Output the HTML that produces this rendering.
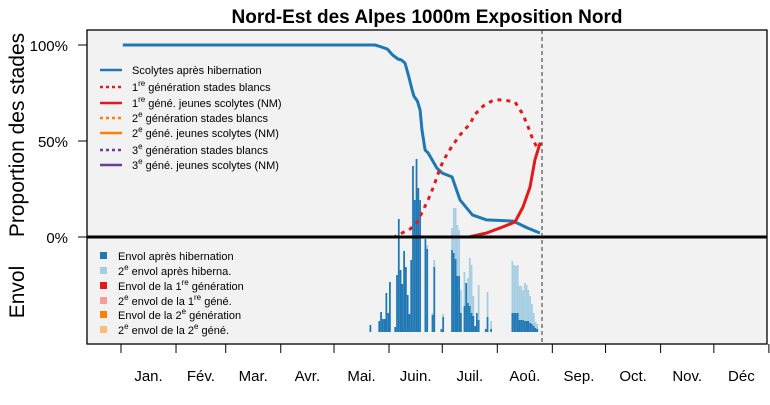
<!DOCTYPE html>
<html><head><meta charset="utf-8"><style>
body{margin:0;background:#fff;}
svg{display:block;font-family:"Liberation Sans",sans-serif;}
</style></head><body>
<svg id="chart" width="770" height="405" viewBox="0 0 770 405">
<text x="427" y="23" text-anchor="middle" font-size="19" font-weight="bold">Nord-Est des Alpes 1000m Exposition Nord</text>
<rect x="87" y="30" width="680" height="314" fill="#f2f2f2" stroke="#000" stroke-width="1.3"/>
<g id="bars"></g>
<g id="lines"></g>
<line x1="87" x2="767" y1="237" y2="237" stroke="#000" stroke-width="3"/>
<line x1="542" x2="542" y1="30" y2="344" stroke="#333" stroke-width="1" stroke-dasharray="4,3"/>
<g id="yaxis" font-size="15"></g>
<text transform="translate(24,135) rotate(-90)" text-anchor="middle" font-size="21">Proportion des stades</text>
<text transform="translate(24,292) rotate(-90)" text-anchor="middle" font-size="21">Envol</text>
<g id="xaxis" font-size="15"></g>
<g font-size="11">
 <g><line x1="100" x2="122" y1="70" y2="70" stroke="#1f78b4" stroke-width="2.5"/><text x="132" y="74">Scolytes après hibernation</text></g>
 <g><line x1="100" x2="122" y1="87" y2="87" stroke="#e31a1c" stroke-width="2.5" stroke-dasharray="3,3"/><text x="132" y="91">1<tspan font-size="8" dy="-5">re</tspan><tspan dy="5"> génération stades blancs</tspan></text></g>
 <g><line x1="100" x2="122" y1="103" y2="103" stroke="#e31a1c" stroke-width="2.5"/><text x="132" y="107">1<tspan font-size="8" dy="-5">re</tspan><tspan dy="5"> géné. jeunes scolytes (NM)</tspan></text></g>
 <g><line x1="100" x2="122" y1="118" y2="118" stroke="#ff7f00" stroke-width="2.5" stroke-dasharray="3,3"/><text x="132" y="122">2<tspan font-size="8" dy="-5">e</tspan><tspan dy="5"> génération stades blancs</tspan></text></g>
 <g><line x1="100" x2="122" y1="133" y2="133" stroke="#ff7f00" stroke-width="2.5"/><text x="132" y="137">2<tspan font-size="8" dy="-5">e</tspan><tspan dy="5"> géné. jeunes scolytes (NM)</tspan></text></g>
 <g><line x1="100" x2="122" y1="150" y2="150" stroke="#6a3d9a" stroke-width="2.5" stroke-dasharray="3,3"/><text x="132" y="154">3<tspan font-size="8" dy="-5">e</tspan><tspan dy="5"> génération stades blancs</tspan></text></g>
 <g><line x1="100" x2="122" y1="165" y2="165" stroke="#6a3d9a" stroke-width="2.5"/><text x="132" y="169">3<tspan font-size="8" dy="-5">e</tspan><tspan dy="5"> géné. jeunes scolytes (NM)</tspan></text></g>
</g>
<g font-size="11">
 <g><rect x="100" y="252" width="7" height="7" fill="#1f78b4"/><text x="118" y="260">Envol après hibernation</text></g>
 <g><rect x="100" y="267" width="7" height="7" fill="#a6cee3"/><text x="118" y="275">2<tspan font-size="8" dy="-5">e</tspan><tspan dy="5"> envol après hiberna.</tspan></text></g>
 <g><rect x="100" y="282" width="7" height="7" fill="#e31a1c"/><text x="118" y="290">Envol de la 1<tspan font-size="8" dy="-5">re</tspan><tspan dy="5"> génération</tspan></text></g>
 <g><rect x="100" y="297" width="7" height="7" fill="#fb9a99"/><text x="118" y="305">2<tspan font-size="8" dy="-5">e</tspan><tspan dy="5"> envol de la 1</tspan><tspan font-size="8" dy="-5">re</tspan><tspan dy="5"> géné.</tspan></text></g>
 <g><rect x="100" y="311" width="7" height="7" fill="#ff7f00"/><text x="118" y="319">Envol de la 2<tspan font-size="8" dy="-5">e</tspan><tspan dy="5"> génération</tspan></text></g>
 <g><rect x="100" y="326" width="7" height="7" fill="#fdbf6f"/><text x="118" y="334">2<tspan font-size="8" dy="-5">e</tspan><tspan dy="5"> envol de la 2</tspan><tspan font-size="8" dy="-5">e</tspan><tspan dy="5"> géné.</tspan></text></g>
</g>
</svg>
<script>
const months = ["Jan.","Fév.","Mar.","Avr.","Mai.","Juin.","Juil.","Aoû.","Sep.","Oct.","Nov.","Déc"];
const monthStarts = [0,31,59,90,120,151,181,212,243,273,304,334,365];
const yTicks = [0,50,100];
const yTickLabels = ["0%","50%","100%"];
const blueDays = [1,143,145,150,153,156,158,160,162,164,165,167,168.5,169.6,171.3,173,178,181,186.5,191,198,206,221,229,236];
const bluePct  = [100,100,99.5,97.9,94.8,92.7,92.2,90.6,83.9,76.6,73.4,70.8,66.1,55.7,45.3,43.8,35.9,33.3,31.3,19.3,11.5,8.9,8.3,4.7,2.1];
const redDotDays = [1,154,156,163,167,173,176,180,184,187,191,197,199,204,210,215,222,226,229,231.5,234.4,236.6];
const redDotPct  = [0,0,1,4.2,7.8,19.3,26,36.5,43.8,47.9,53.1,59.4,63.5,68.2,71.4,71.4,70.3,64.6,58.3,52.1,46.4,49];
const redDays = [1,196,206,215,222,226.5,230.4,233.2,236.1];
const redPct  = [0,0,2.1,5.2,7.8,15.6,26,40.1,49];
const envolStart = 140;
const envolDark  = [7,0,0,0,0,11,20,13,13,39,19,50,0,0,5,57,113,62,48,81,65,37,18,72,166,132,173,144,132,0,0,93,83,0,0,17,65,0,0,0,3,15,0,0,0,0,82,79,73,56,56,19,0,26,49,29,26,19,16,6,19,12,0,0,0,3,15,0,3,0,0,0,0,0,0,0,0,0,0,0,19,19,19,19,12,12,12,11,11,11,9,8,6,4,3];
const envolLight = [0,0,0,0,0,0,0,0,0,0,0,0,0,0,0,0,0,0,0,0,0,0,0,0,0,0,0,0,0,0,0,0,4,0,0,2,7,0,0,0,0,3,0,0,0,0,22,45,51,51,46,23,0,34,0,25,48,48,20,0,0,35,0,0,0,0,25,0,8,0,0,0,0,0,0,0,0,0,0,0,52,48,47,48,34,34,30,38,36,31,27,20,13,6,5];
const NS = "http://www.w3.org/2000/svg";
const xDay = d => 121 + d * 1.775;
const yPct = p => 237 - p * 1.92;
const yEnv = v => 332 - v;
function mk(tag, attrs, parent){const e=document.createElementNS(NS,tag);for(const k in attrs)e.setAttribute(k,attrs[k]);parent.appendChild(e);return e;}
const bars=document.getElementById('bars'), lines=document.getElementById('lines');
const bw=1.775;
envolDark.forEach((v,i)=>{
  const d=envolStart+i, x=xDay(d);
  if(v>0){const r=mk('rect',{x:x,y:yEnv(v),width:bw,height:v,fill:'#1f78b4'},bars);
    
    }
  const l=envolLight[i];
  if(l>0){const r=mk('rect',{x:x,y:yEnv(v+l),width:bw,height:l,fill:'#a6cee3'},bars);
    
    }
});
function path(days,pcts){return days.map((d,i)=>(i?'L':'M')+xDay(d).toFixed(1)+','+yPct(pcts[i]).toFixed(1)).join(' ');}
const p1=mk('path',{d:path(blueDays,bluePct),fill:'none',stroke:'#1f78b4','stroke-width':3,'stroke-linejoin':'round'},lines);


const p2=mk('path',{d:path(redDotDays,redDotPct),fill:'none',stroke:'#e31a1c','stroke-width':3,'stroke-dasharray':'4,5'},lines);


const p3=mk('path',{d:path(redDays,redPct),fill:'none',stroke:'#e31a1c','stroke-width':3,'stroke-linejoin':'round'},lines);


const ya=document.getElementById('yaxis');
yTicks.forEach((t,i)=>{
  const tk=mk('line',{x1:78,x2:87,y1:yPct(t),y2:yPct(t),stroke:'#000'},ya);
  
  
  const tx=mk('text',{x:68,y:yPct(t)+6,'text-anchor':'end'},ya);
  tx.textContent=yTickLabels[i];
  
  
});
const xa=document.getElementById('xaxis');
monthStarts.forEach(d=>{
  const tk=mk('line',{x1:xDay(d),x2:xDay(d),y1:344,y2:353,stroke:'#000'},xa);
  
  
});
months.forEach((m,i)=>{
  const tx=mk('text',{x:(xDay(monthStarts[i])+xDay(monthStarts[i+1]))/2,y:381,'text-anchor':'middle'},xa);
  tx.textContent=m;
  
  
});
</script>
</body></html>
